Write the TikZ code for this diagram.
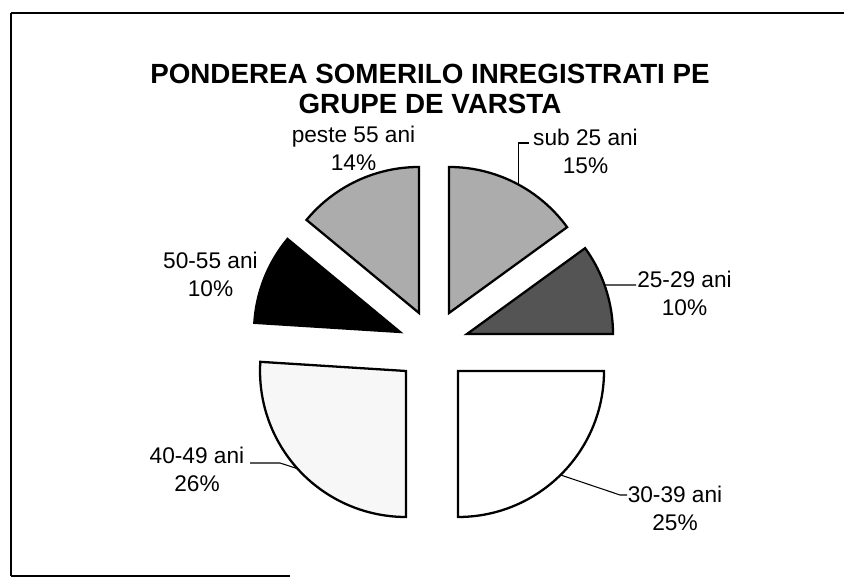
\documentclass[tikz,border=0pt]{standalone}
\usepackage{fontspec}
\setmainfont{Liberation Sans}
\begin{document}
\begin{tikzpicture}[x=0.02cm,y=0.02cm,
	slice/.style={draw=black,line width=1.3pt,line join=miter},
	leader/.style={draw=black,line width=0.6pt},
	lbl/.style={inner sep=0pt,anchor=north,align=center,font=\fontsize{12.9}{16}\selectfont}]
	\useasboundingbox (0,0) rectangle (844,587);
	\draw[line width=0.8pt] (11,574)--(844,574);
	\draw[line width=0.8pt] (11,574)--(11,11);
	\draw[line width=0.8pt] (11,11)--(290,11);
	\node[inner sep=0pt,anchor=north,align=center,font=\fontsize{15.8}{17}\selectfont\bfseries] (title) at (430,523) {PONDEREA SOMERILO INREGISTRATI PE\\GRUPE DE VARSTA};
	\draw[slice,fill=gray!65] (449,274) -- ++(90:146) arc[start angle=90,end angle=36,radius=146] -- cycle;
	\draw[slice,fill=black!67] (467,253) -- ++(36:146) arc[start angle=36,end angle=0,radius=146] -- cycle;
	\draw[slice,fill=white] (458,216) -- ++(0:146) arc[start angle=0,end angle=-90,radius=146] -- cycle;
	\draw[slice,fill=gray!6] (406,216) -- ++(-90:146) arc[start angle=-90,end angle=-183.6,radius=146] -- cycle;
	\draw[slice,fill=black] (400,255) -- ++(176.4:146) arc[start angle=176.4,end angle=140.4,radius=146] -- cycle;
	\draw[slice,fill=gray!65] (419,274) -- ++(140.4:146) arc[start angle=140.4,end angle=90,radius=146] -- cycle;
	\path (449,274) ++(61.5:146) coordinate (asub);
	\path (467,253) ++(19.6:146) coordinate (a2529);
	\path (458,216) ++(-45.4:146) coordinate (a3039);
	\path (406,216) ++(-138:146) coordinate (a4049);
	\coordinate (ksub) at (529,444);
	\coordinate (k2529) at (636,302);
	\coordinate (b3039) at (620,92);
	\coordinate (k3039) at (627,92);
	\coordinate (k4049) at (250,124);
	\coordinate (b4049) at (280,124);
	\node[lbl] (lpeste) at (353.5,461.5) {peste 55 ani\\14\%};
	\node[lbl] (lsub) at (585.5,458.5) {sub 25 ani\\15\%};
	\node[lbl] (l5055) at (210.5,335.5) {50-55 ani\\10\%};
	\node[lbl] (l2529) at (684.5,316.5) {25-29 ani\\10\%};
	\node[lbl] (l4049) at (197,140.5) {40-49 ani\\26\%};
	\node[lbl] (l3039) at (675,101.5) {30-39 ani\\25\%};
	\draw[leader] (asub) |- (ksub);
	\draw[leader] (a2529) -- (k2529);
	\draw[leader] (a3039) -- (b3039) -- (k3039);
	\draw[leader] (k4049) -- (b4049) -- (a4049);
\end{tikzpicture}
\end{document}
